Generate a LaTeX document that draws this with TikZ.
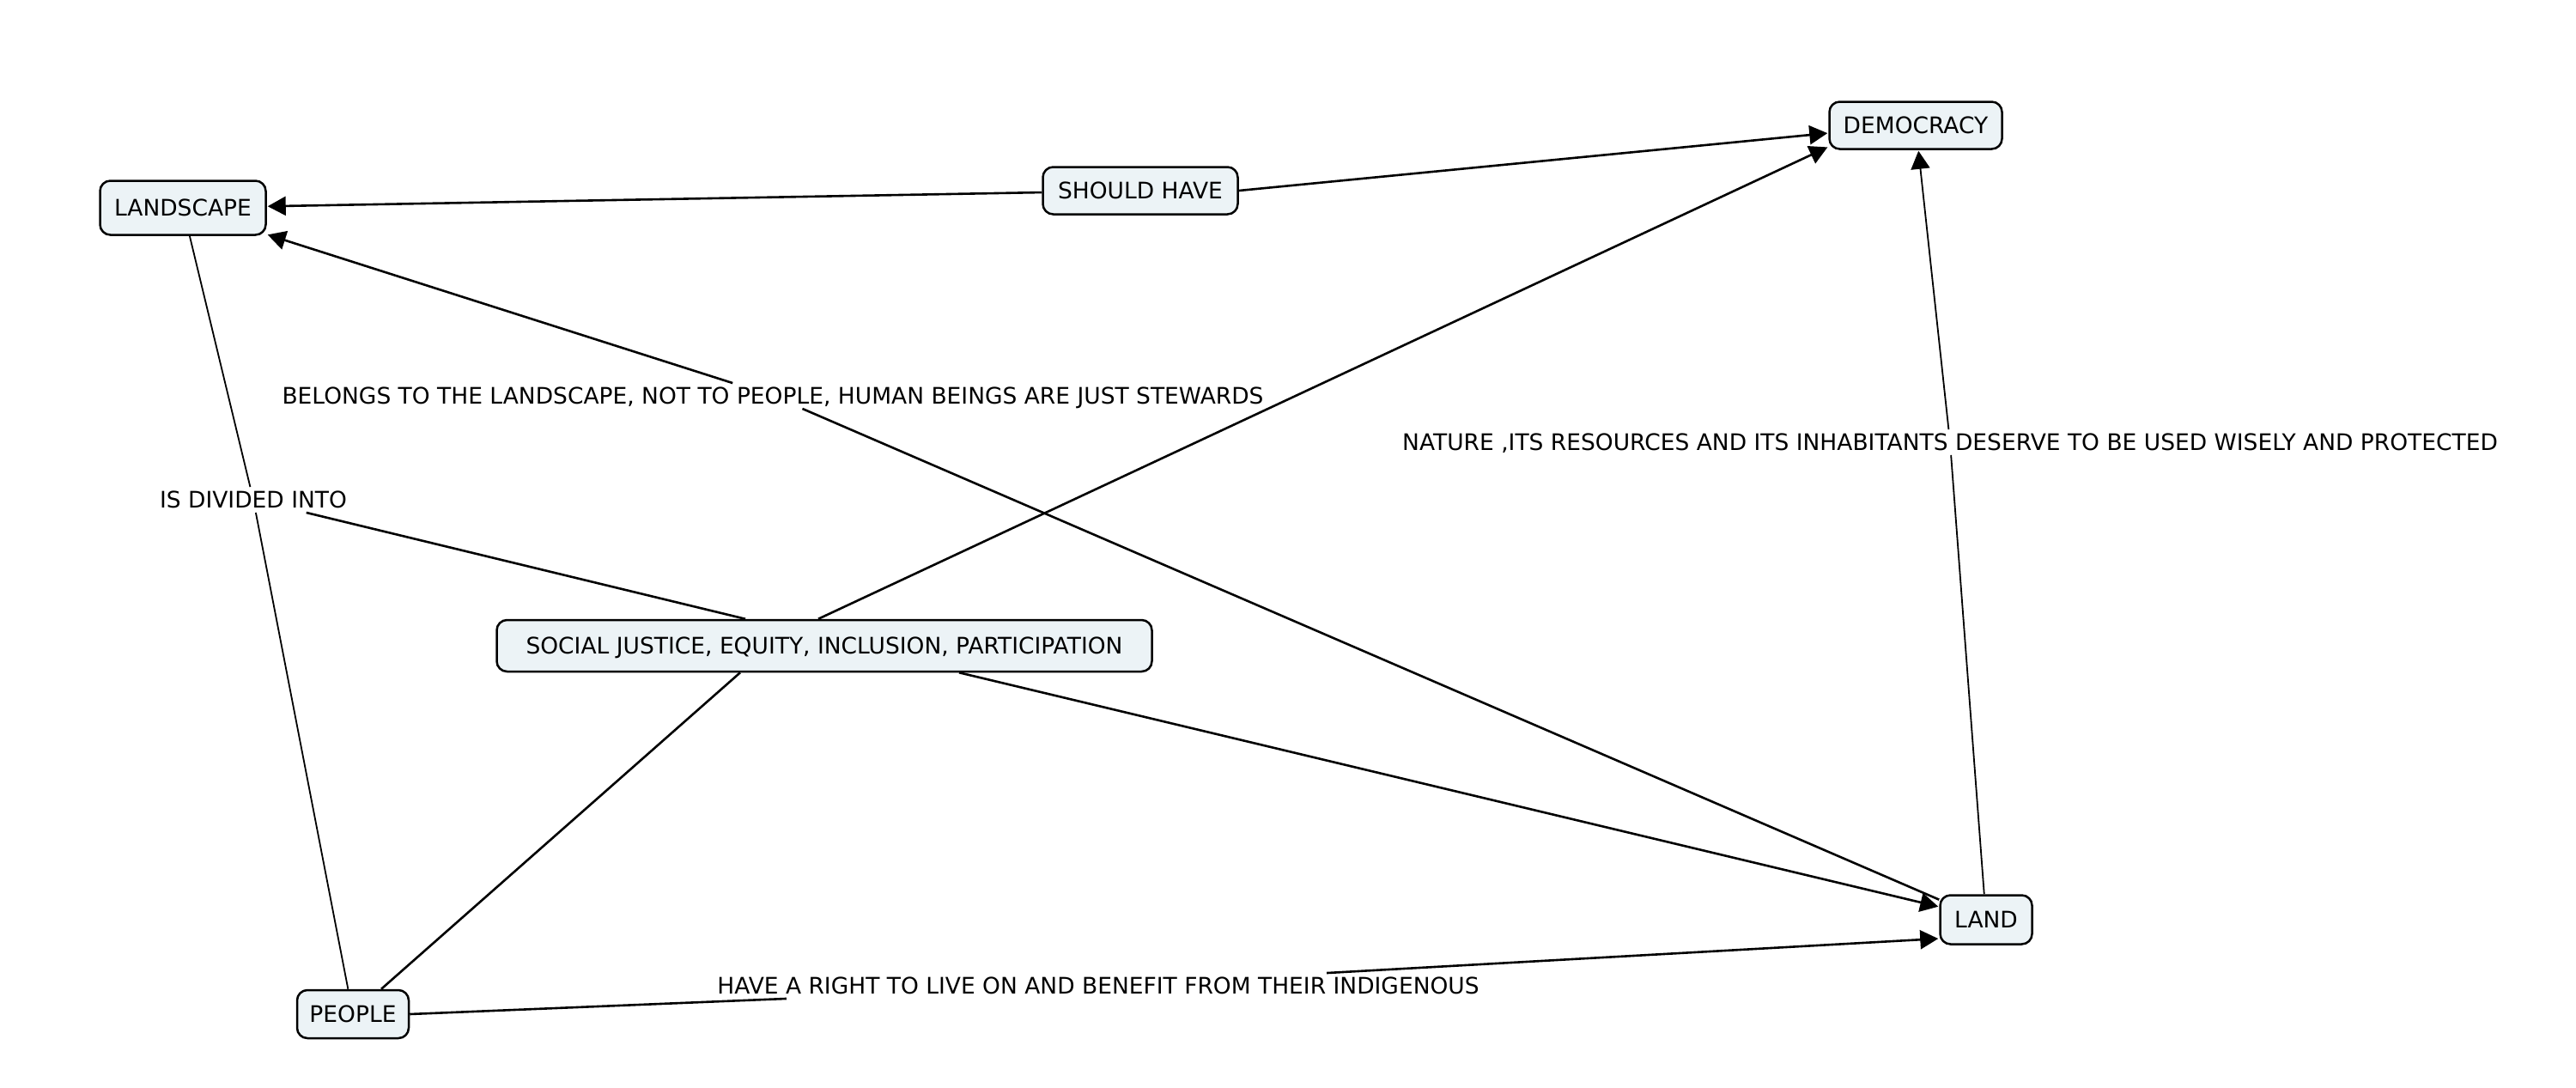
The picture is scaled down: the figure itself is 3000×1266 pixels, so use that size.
\documentclass[tikz,border=0pt]{standalone}
\usepackage{fontspec}
\setmainfont{DejaVu Sans}
\usetikzlibrary{arrows.meta}
\definecolor{conceptfill}{RGB}{236,243,246}
\begin{document}
\begin{tikzpicture}[x=1pt,y=-1pt,
  font=\fontsize{26.5}{30}\selectfont,
  concept/.style={draw, line width=2.5pt, fill=conceptfill, rounded corners=12pt,
    inner sep=0pt, text height=19.5pt, text depth=0pt},
  linkphrase/.style={inner xsep=3pt, inner ysep=5pt, text height=19.5pt, text depth=0pt},
  conn/.style={line width=2.6pt},
  thinconn/.style={line width=1.8pt},
  tipped/.style={-{Triangle[length=21pt,width=22pt]}, shorten >=1pt}]
\useasboundingbox (0,0) rectangle (3000,1266);
% concepts
\node[concept, minimum width=193pt, minimum height=63pt] (landscape) at (213,242) {LANDSCAPE};
\node[concept, minimum width=227pt, minimum height=55pt] (should) at (1328,222) {SHOULD HAVE};
\node[concept, minimum width=201pt, minimum height=55pt] (democracy) at (2231,146) {DEMOCRACY};
\node[concept, minimum width=763pt, minimum height=60pt] (social) at (960,752) {SOCIAL JUSTICE, EQUITY, INCLUSION, PARTICIPATION};
\node[concept, minimum width=130pt, minimum height=56pt] (people) at (411,1181) {PEOPLE};
\node[concept, minimum width=107pt, minimum height=57pt] (land) at (2313,1071) {LAND};
% linking phrases
\node[linkphrase] (belongs) at (900,461) {BELONGS TO THE LANDSCAPE, NOT TO PEOPLE, HUMAN BEINGS ARE JUST STEWARDS};
\node[linkphrase] (divided) at (295,582) {IS DIVIDED INTO};
\node[linkphrase] (nature) at (2271,515) {NATURE ,ITS RESOURCES AND ITS INHABITANTS DESERVE TO BE USED WISELY AND PROTECTED};
\node[linkphrase] (right) at (1279,1148) {HAVE A RIGHT TO LIVE ON AND BENEFIT FROM THEIR INDIGENOUS};
% connectors
\draw[conn, tipped] (should) -- (landscape);
\draw[conn, tipped] (should.east) -- ([yshift=-9pt]democracy.west);
\draw[conn, tipped] ([xshift=-7pt]social.north) -- ([yshift=-25pt]democracy.west);
\draw[conn, tipped] ([xshift=157pt]social.south) -- ([yshift=15pt]land.west);
\draw[conn] (land) -- (belongs);
\draw[conn, tipped] (belongs) -- (landscape);
\draw[thinconn] (land) -- (nature);
\draw[thinconn, tipped] (nature) -- (democracy);
\draw[conn] (people.east) -- (right);
\draw[conn, tipped] (right) -- ([yshift=-22pt]land.west);
\draw[thinconn] (landscape) -- (divided) -- (people);
\draw[conn] (divided) -- ([xshift=-92pt]social.north);
\draw[conn] ([xshift=-98pt]social.south) -- (people);
\end{tikzpicture}
\end{document}
